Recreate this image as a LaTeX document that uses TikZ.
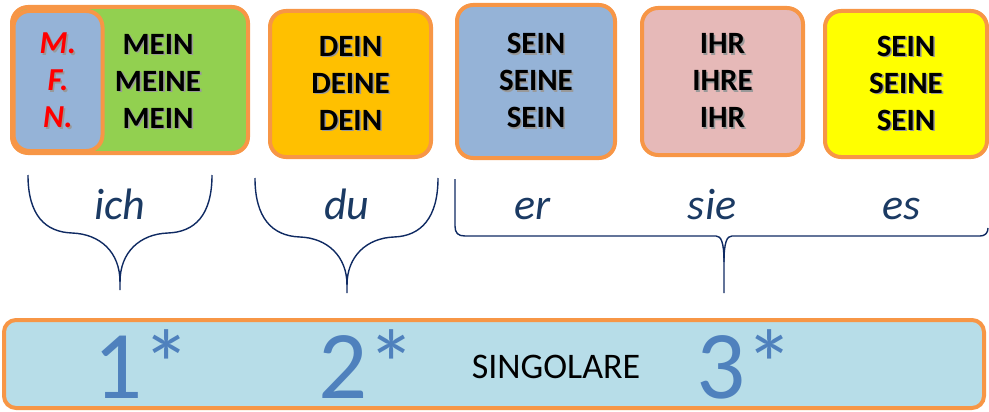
\documentclass[tikz,border=0pt]{standalone}
\usepackage{fontspec}
\setmainfont{Carlito}
\usetikzlibrary{positioning}
\definecolor{borange}{HTML}{F79646}
\definecolor{mgreen}{HTML}{92D050}
\definecolor{mblue}{HTML}{95B3D7}
\definecolor{dgold}{HTML}{FFC000}
\definecolor{spink}{HTML}{E6B9B8}
\definecolor{syellow}{HTML}{FFFF00}
\definecolor{barblue}{HTML}{B7DDE8}
\definecolor{numblue}{HTML}{4F81BD}
\definecolor{navy}{HTML}{0F2A62}
\definecolor{pronblue}{HTML}{1B3A63}
% text with a soft grey shadow
\newcommand{\shd}[1]{\leavevmode\rlap{\raisebox{-1.6pt}{\hspace{1.6pt}\textcolor{black!40}{#1}}}#1}
\tikzstyle{card} = [draw=borange, line width=4pt, rounded corners=16pt, minimum width=161pt, minimum height=146pt, align=center, font=\bfseries\fontsize{31}{37}\selectfont]
\tikzstyle{words} = [align=center, font=\bfseries\fontsize{31}{37}\selectfont]
\tikzstyle{pron} = [anchor=base, text=pronblue, font=\itshape\fontsize{44}{44}\selectfont]
\tikzstyle{num} = [anchor=base, inner sep=0pt, text=numblue, font=\fontsize{97}{97}\selectfont]
\tikzstyle{brace} = [draw=navy, line width=1.4pt]

\begin{document}
\begin{tikzpicture}[x=1pt, y=-1pt]
		\useasboundingbox (0,0) rectangle (989,412);
		% possessive boxes
		\node (mein) [card, fill=mgreen, minimum width=236pt] at (130,80) {};
		\node (mfn) [card, fill=mblue, minimum width=89pt, minimum height=140pt, text=red, font=\bfseries\itshape\fontsize{32}{37}\selectfont] at (58,81) {\shd{M.}\\\shd{F.}\\\shd{N.}};
		\node (meintxt) [words] at (158,82) {\shd{MEIN}\\\shd{MEINE}\\\shd{MEIN}};
		\node (dein) [card, fill=dgold] at (350.5,84) {\shd{DEIN}\\\shd{DEINE}\\\shd{DEIN}};
		\node (sein) [card, fill=mblue, minimum width=158pt, minimum height=153pt] at (536,81.5) {\shd{SEIN}\\\shd{SEINE}\\\shd{SEIN}};
		\node (ihr) [card, fill=spink, minimum height=147pt] at (722.5,81.5) {\shd{IHR}\\\shd{IHRE}\\\shd{IHR}};
		\node (es) [card, fill=syellow, minimum width=162pt] at (906,84) {\shd{SEIN}\\\shd{SEINE}\\\shd{SEIN}};
		% pronouns
		\node (ich) [pron] at (120,219) {ich};
		\node (du) [pron] at (347,219) {du};
		\node (er) [pron] at (533,219) {er};
		\node (sie) [pron] at (712,219) {sie};
		\node (esp) [pron] at (902,219) {es};
		% braces
		\draw [brace] (28,175) .. controls (28,215) and (45,232) .. (72,233) .. controls (100,234) and (120,252) .. (120,282) -- (120,290);
		\draw [brace] (212,175) .. controls (212,215) and (195,232) .. (168,233) .. controls (140,234) and (120,252) .. (120,282);
		\draw [brace] (255,178) .. controls (255,218) and (272,236) .. (300,237) .. controls (327,238) and (347,256) .. (347,285) -- (347,293);
		\draw [brace] (438,178) .. controls (438,218) and (421,236) .. (394,237) .. controls (367,238) and (347,256) .. (347,285);
		\draw [brace] (455,179) -- (455,226) .. controls (455,233) and (458,236) .. (465,236) -- (716,236) .. controls (721,236) and (724,242) .. (724,262) -- (724,293);
		\draw [brace] (724,262) .. controls (724,242) and (727,236) .. (732,236) -- (980,236) .. controls (985,236) and (988,233) .. (988,228);
		% singular bar
		\node (bar) [draw=borange, line width=4pt, rounded corners=12pt, fill=barblue, minimum width=980pt, minimum height=88pt] at (494,364) {};
		\node (one) [num] at (142,398) {1*};
		\node (two) [num] at (367,398) {2*};
		\node (sing) [anchor=base, inner sep=0pt, font=\fontsize{36}{36}\selectfont] at (556,378) {SINGOLARE};
		\node (three) [num] at (745,398) {3*};
\end{tikzpicture}
\end{document}
